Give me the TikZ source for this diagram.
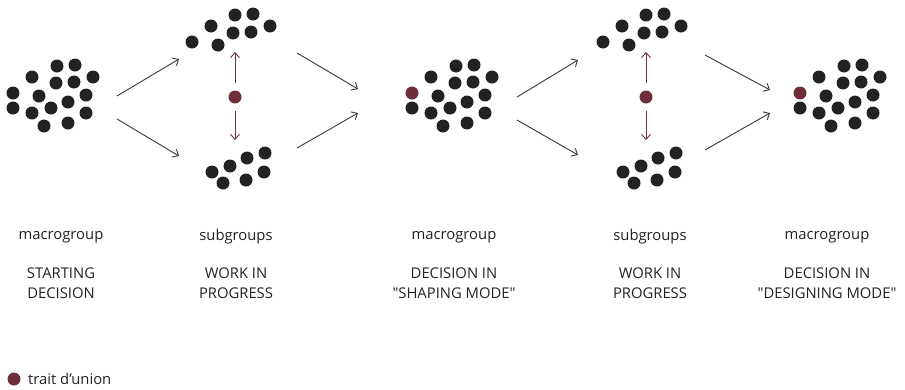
\documentclass[tikz,border=0pt]{standalone}
\usepackage{fontspec}
\setmainfont{Open Sans}[Ligatures=TeXOff]
\usetikzlibrary{arrows.meta}
\definecolor{union}{RGB}{110,46,60}
\definecolor{ink}{RGB}{34,34,34}
\newcommand*{\rdot}{6.5}
\tikzset{
    dot/.style   = {circle, fill=ink, inner sep=0pt, minimum size=13pt},
    link/.style  = {circle, fill=union, inner sep=0pt, minimum size=13pt},
    flow/.style  = {draw=ink!90, line width=0.9pt, -{Straight Barb[length=5pt,width=9pt]}},
    pull/.style  = {draw=union, line width=0.9pt, -{Straight Barb[length=5pt,width=9pt]}},
    title/.style = {font=\fontsize{14.8}{20}\selectfont, text=ink},
    phase/.style = {font=\fontsize{14.8}{20}\selectfont, text=ink, align=center},
    macro/.pic   = {
        \foreach \dx/\dy in {44/-27,62/-28,19/-16,43/-10,61/-11,80/-16,26/3,55/9,73/2,0/15,19/20,38/15,73/20,31/33,55/30}
            \fill[ink] (\dx,\dy) circle (\rdot);
    },
    subtop/.pic  = {
        \foreach \dx/\dy in {-43/-55,-24/-71,-17/-52,0/-82,18/-83,-2/-64,16/-65,35/-71}
            \fill[ink] (\dx,\dy) circle (\rdot);
    },
    subbot/.pic  = {
        \foreach \dx/\dy in {-23/75,-5/69,12/61,30/56,-12/86,11/83,29/75}
            \fill[ink] (\dx,\dy) circle (\rdot);
    }
}
\begin{document}
\begin{tikzpicture}[x=1pt,y=-1pt]
    \useasboundingbox (0,0) rectangle (905,389);

    % groups
    \node[dot]  (m1) at (13,93) {};
    \pic at (m1) {macro};
    \node[link] (u1) at (235,97) {};
    \pic at (u1) {subtop};
    \pic at (u1) {subbot};
    \node[link] (m2) at (412,93) {};
    \pic at (m2) {macro};
    \node[link] (u2) at (646,97) {};
    \pic at (u2) {subtop};
    \pic at (u2) {subbot};
    \node[link] (m3) at (800,93) {};
    \pic at (m3) {macro};

    % arrow ends
    \coordinate (a1) at (117,96);  \coordinate (a2) at (179,59);
    \coordinate (a3) at (117,119); \coordinate (a4) at (179,156);
    \coordinate (b1) at (297,53);  \coordinate (b2) at (358,89);
    \coordinate (b3) at (297,148); \coordinate (b4) at (358,113);
    \coordinate (c1) at (517,97);  \coordinate (c2) at (578,60);
    \coordinate (c3) at (517,120); \coordinate (c4) at (578,155);
    \coordinate (d1) at (705,55);  \coordinate (d2) at (770,90);
    \coordinate (d3) at (705,150); \coordinate (d4) at (770,113);
    \foreach \s/\e in {a1/a2,a3/a4,b1/b2,b3/b4,c1/c2,c3/c4,d1/d2,d3/d4}
        \draw[flow] (\s) -- (\e);

    \coordinate (u1t) at (235,52); \coordinate (u1b) at (235,140);
    \coordinate (u2t) at (646,52); \coordinate (u2b) at (646,140);
    \draw[pull, shorten <=7pt] (u1) -- (u1t);
    \draw[pull, shorten <=7pt] (u1) -- (u1b);
    \draw[pull, shorten <=7pt] (u2) -- (u2t);
    \draw[pull, shorten <=7pt] (u2) -- (u2b);

    % labels
    \node[title] (t1) at (61,237)  {macrogroup};
    \node[title] (t2) at (236,237) {subgroups};
    \node[title] (t3) at (454,237) {macrogroup};
    \node[title] (t4) at (650,237) {subgroups};
    \node[title] (t5) at (827,237) {macrogroup};
    \node[phase] (p1) at (61,283)  {STARTING\\DECISION};
    \node[phase] (p2) at (236,283) {WORK IN\\PROGRESS};
    \node[phase] (p3) at (454,283) {DECISION IN\\"SHAPING MODE"};
    \node[phase] (p4) at (650,283) {WORK IN\\PROGRESS};
    \node[phase] (p5) at (827,283) {DECISION IN\\"DESIGNING MODE"};

    % legend
    \node[link] (key) at (14,379) {};
    \node[title, anchor=west, inner sep=0pt] (keytext) at (28,379) {trait d’union};
\end{tikzpicture}
\end{document}
